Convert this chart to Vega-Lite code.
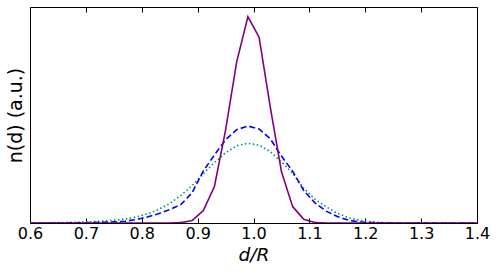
{
  "$schema": "https://vega.github.io/schema/vega-lite/v6.json",
  "width": 447,
  "height": 216,
  "autosize": "none",
  "padding": {"left": 30, "top": 7, "right": 21, "bottom": 55},
  "background": "white",
  "config": {
    "view": {"stroke": "black", "strokeWidth": 1},
    "font": "DejaVu Sans",
    "axis": {"grid": false, "domain": false, "labelFont": "DejaVu Sans", "titleFont": "DejaVu Sans", "labelColor": "black", "titleColor": "black", "tickColor": "black"}
  },
  "data": {
    "values": [
      {"d": 0.60, "p": 0, "b": 0, "t": 0.001},
      {"d": 0.61, "p": 0, "b": 0, "t": 0.001},
      {"d": 0.63, "p": 0, "b": 0, "t": 0.001},
      {"d": 0.65, "p": 0, "b": 0, "t": 0.002},
      {"d": 0.67, "p": 0, "b": 0.0005, "t": 0.003},
      {"d": 0.69, "p": 0, "b": 0.001, "t": 0.004},
      {"d": 0.71, "p": 0, "b": 0.002, "t": 0.006},
      {"d": 0.73, "p": 0, "b": 0.003, "t": 0.009},
      {"d": 0.75, "p": 0, "b": 0.005, "t": 0.013},
      {"d": 0.77, "p": 0, "b": 0.008, "t": 0.018},
      {"d": 0.79, "p": 0, "b": 0.016, "t": 0.028},
      {"d": 0.81, "p": 0, "b": 0.028, "t": 0.042},
      {"d": 0.83, "p": 0, "b": 0.043, "t": 0.063},
      {"d": 0.85, "p": 0, "b": 0.062, "t": 0.09},
      {"d": 0.87, "p": 0.002, "b": 0.085, "t": 0.128},
      {"d": 0.89, "p": 0.011, "b": 0.14, "t": 0.172},
      {"d": 0.91, "p": 0.057, "b": 0.24, "t": 0.228},
      {"d": 0.93, "p": 0.168, "b": 0.315, "t": 0.28},
      {"d": 0.95, "p": 0.43, "b": 0.385, "t": 0.325},
      {"d": 0.97, "p": 0.747, "b": 0.432, "t": 0.358},
      {"d": 0.99, "p": 0.955, "b": 0.449, "t": 0.369},
      {"d": 1.01, "p": 0.86, "b": 0.435, "t": 0.36},
      {"d": 1.03, "p": 0.537, "b": 0.39, "t": 0.33},
      {"d": 1.05, "p": 0.238, "b": 0.31, "t": 0.283},
      {"d": 1.07, "p": 0.076, "b": 0.24, "t": 0.23},
      {"d": 1.09, "p": 0.017, "b": 0.15, "t": 0.16},
      {"d": 1.11, "p": 0.002, "b": 0.093, "t": 0.11},
      {"d": 1.13, "p": 0, "b": 0.055, "t": 0.075},
      {"d": 1.15, "p": 0, "b": 0.03, "t": 0.045},
      {"d": 1.17, "p": 0, "b": 0.013, "t": 0.025},
      {"d": 1.19, "p": 0, "b": 0.005, "t": 0.012},
      {"d": 1.21, "p": 0, "b": 0.002, "t": 0.005},
      {"d": 1.23, "p": 0, "b": 0.001, "t": 0.002},
      {"d": 1.25, "p": 0, "b": 0, "t": 0.001},
      {"d": 1.27, "p": 0, "b": 0, "t": 0},
      {"d": 1.29, "p": 0, "b": 0, "t": 0},
      {"d": 1.31, "p": 0, "b": 0, "t": 0},
      {"d": 1.33, "p": 0, "b": 0, "t": 0},
      {"d": 1.35, "p": 0, "b": 0, "t": 0},
      {"d": 1.37, "p": 0, "b": 0, "t": 0},
      {"d": 1.39, "p": 0, "b": 0, "t": 0},
      {"d": 1.40, "p": 0, "b": 0, "t": 0}
    ]
  },
  "transform": [{"fold": ["t", "b", "p"], "as": ["s", "n"]}],
  "layer": [
    {
      "mark": {"type": "line", "strokeWidth": 1.6, "clip": true},
      "encoding": {
        "x": {"field": "d", "type": "quantitative",
          "scale": {"domain": [0.6, 1.4], "nice": false, "zero": false},
          "axis": {"orient": "bottom", "values": [0.6, 0.7, 0.8, 0.9, 1.0, 1.1, 1.2, 1.3, 1.4], "format": ".1f",
            "tickSize": -5, "labelPadding": 7, "labelFontSize": 16, "labelFlush": false,
            "title": "d/R", "titleFontSize": 18.5, "titleFontStyle": "italic", "titleFontWeight": "normal",
            "titleX": 223.5, "titleY": 37, "titleBaseline": "alphabetic", "titleAlign": "center"}},
        "y": {"field": "n", "type": "quantitative",
          "scale": {"domain": [0, 1], "nice": false},
          "axis": {"ticks": false, "labels": false, "title": "n(d) (a.u.)", "titleFontSize": 19, "titleFontWeight": "normal",
            "titleAngle": -90, "titleX": -15, "titleY": 108, "titleAlign": "center", "titleBaseline": "middle"}},
        "color": {"field": "s", "type": "nominal", "legend": null,
          "scale": {"domain": ["t", "b", "p"], "range": ["#008b8b", "#0000ff", "#800080"]}},
        "strokeDash": {"field": "s", "type": "nominal", "legend": null,
          "scale": {"domain": ["t", "b", "p"], "range": [[1.5, 2.5], [6, 3], [1, 0]]}}
      }
    },
    {
      "mark": {"type": "line", "strokeOpacity": 0},
      "encoding": {
        "x": {"field": "d", "type": "quantitative",
          "scale": {"domain": [0.6, 1.4], "nice": false, "zero": false},
          "axis": {"orient": "top", "values": [0.6, 0.7, 0.8, 0.9, 1.0, 1.1, 1.2, 1.3, 1.4], "labels": false, "tickSize": -5, "title": null}},
        "y": {"field": "n", "type": "quantitative", "scale": {"domain": [0, 1], "nice": false}},
        "detail": {"field": "s"}
      }
    }
  ],
  "resolve": {"axis": {"x": "independent"}}
}
